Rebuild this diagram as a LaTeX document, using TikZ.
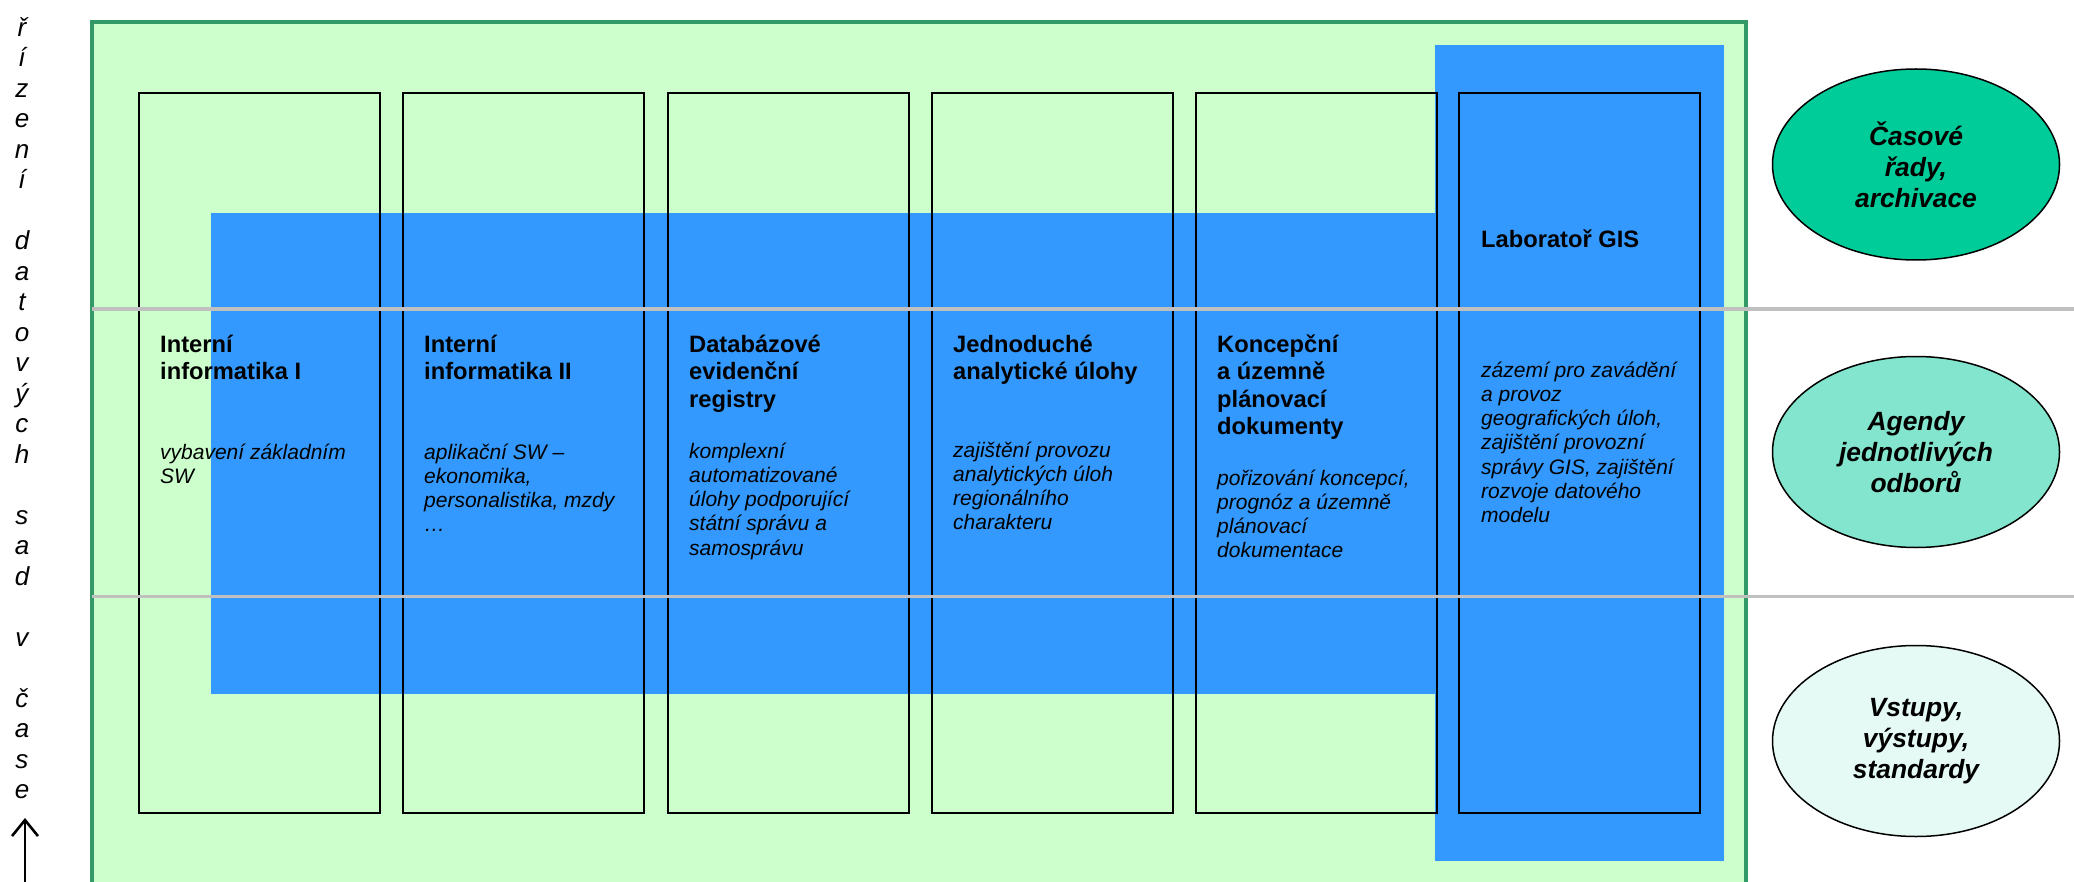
\documentclass[tikz,border=0pt]{standalone}
\usepackage{fontspec}
\setmainfont{Liberation Sans}
\usetikzlibrary{shapes.geometric,arrows.meta}

\definecolor{panelgreen}{HTML}{CCFFCC}
\definecolor{framegreen}{HTML}{339966}
\definecolor{bandblue}{HTML}{3399FF}
\definecolor{ovalA}{HTML}{00CC99}
\definecolor{ovalB}{HTML}{83E5CD}
\definecolor{ovalC}{HTML}{E6FAF5}
\definecolor{rulegray}{HTML}{C0C0C0}

\tikzset{
  column/.style={draw=black, line width=2pt},
  layerline/.style={draw=rulegray, line width=3.5pt},
  heading/.style={anchor=base west, align=left, inner sep=0pt,
    font=\fontsize{23.7}{27.5}\selectfont\bfseries},
  detail/.style={anchor=base west, align=left, inner sep=0pt,
    font=\fontsize{21}{24.3}\selectfont\itshape},
  sidetext/.style={anchor=base, align=center, inner sep=0pt,
    font=\fontsize{26}{30.5}\selectfont\itshape},
  oval/.style={ellipse, draw=black, line width=1.5pt, minimum width=287pt,
    minimum height=191pt, inner sep=0pt, align=center,
    font=\fontsize{26.4}{31}\selectfont\bfseries\itshape},
}

\begin{document}
\begin{tikzpicture}[x=1pt,y=-1pt]
\useasboundingbox (0,0) rectangle (2074,882);
\clip (0,0) rectangle (2074,882);

%% panel and bands
\draw[fill=panelgreen, draw=framegreen, line width=4pt] (92,22) rectangle (1746,900);
\fill[bandblue] (211,213) rectangle (1436,694);
\fill[bandblue] (1435,45) rectangle (1724,861);

%% columns
\draw[column] (139,93) rectangle (380,813);    %% interni I
\draw[column] (403,93) rectangle (644,813);    %% interni II
\draw[column] (668,93) rectangle (909,813);    %% registry
\draw[column] (932,93) rectangle (1173,813);   %% analyticke
\draw[column] (1196,93) rectangle (1437,813);  %% koncepcni
\draw[column] (1459,93) rectangle (1700,813);  %% GIS

%% layer lines
\draw[layerline] (92,309) -- (2074,309);
\draw[layerline] (92,596.5) -- (2074,596.5);

%% column headings (placed at the baseline of the last line)
\node[heading] (headA) at (160,379.5) {Interní\\informatika I};
\node[heading] (headB) at (424,379.5) {Interní\\informatika II};
\node[heading] (headC) at (689,407) {Databázové\\evidenční\\registry};
\node[heading] (headD) at (953,379.5) {Jednoduché\\analytické úlohy};
\node[heading] (headE) at (1217,434.5) {Koncepční\\a územně\\plánovací\\dokumenty};
\node[heading] (headF) at (1481,248) {Laboratoř GIS};

%% column texts
\node[detail] (textA) at (160,483.3) {vybavení základním\\SW};
\node[detail] (textB) at (424,531.9) {aplikační SW –\\ekonomika,\\personalistika, mzdy\\…};
\node[detail] (textC) at (689,555.2) {komplexní\\automatizované\\úlohy podporující\\státní správu a\\samosprávu};
\node[detail] (textD) at (953,529.9) {zajištění provozu\\analytických úloh\\regionálního\\charakteru};
\node[detail] (textE) at (1217,557.9) {pořizování koncepcí,\\prognóz a územně\\plánovací\\dokumentace};
\node[detail] (textF) at (1481,522.8) {zázemí pro zavádění\\a provoz\\geografických úloh,\\zajištění provozní\\správy GIS, zajištění\\rozvoje datového\\modelu};

%% ovals
\node[oval, fill=ovalA] (archive) at (1916,164.5) {Časové\\řady,\\archivace};
\node[oval, fill=ovalB] (agendas) at (1916,452) {Agendy\\jednotlivých\\odborů};
\node[oval, fill=ovalC] (inputs) at (1916,741) {Vstupy,\\výstupy,\\standardy};

%% time axis
\node[sidetext] (timeaxis) at (22,798.5) {ř\\í\\z\\e\\n\\í\\\mbox{}\\d\\a\\t\\o\\v\\ý\\c\\h\\\mbox{}\\s\\a\\d\\\mbox{}\\v\\\mbox{}\\č\\a\\s\\e};
\coordinate (axistail) at (25,882);
\coordinate (axistip) at (25,818);
\draw[line width=2.6pt, -{Straight Barb[length=16pt,width=26pt]}] (axistail) -- (axistip);
\end{tikzpicture}
\end{document}
